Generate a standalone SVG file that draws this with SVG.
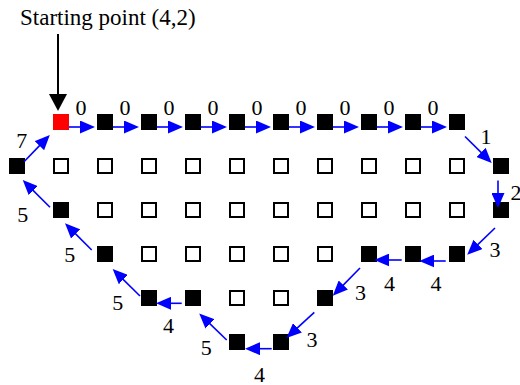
<svg xmlns="http://www.w3.org/2000/svg" width="520" height="385" viewBox="0 0 520 385">
<style>
.b{fill:#000}
.r{fill:#ff0000}
.h{fill:#fff;stroke:#000;stroke-width:2}
.c line{stroke:#0000ff;stroke-width:1.6;marker-end:url(#ah)}
.t{font-family:'Liberation Serif','Times New Roman',Tinos,'DejaVu Serif',serif;font-size:22px;fill:#000}
.lbl{text-anchor:middle}
</style>
<defs>
<marker id="ah" viewBox="0 0 15 13" refX="5" refY="6.5" markerWidth="15" markerHeight="13" markerUnits="userSpaceOnUse" orient="auto"><path d="M0,0 L15,6.5 L0,13 z" fill="#0000ff"/></marker>
<marker id="bh" viewBox="0 0 17 18" refX="5" refY="9" markerWidth="17" markerHeight="18" markerUnits="userSpaceOnUse" orient="auto"><path d="M0,0 L17,9 L0,18 z" fill="#000"/></marker>
</defs>
<rect width="520" height="385" fill="#fff"/>
<g id="start-label">
<text class="t" x="20" y="25" font-family="Liberation Serif, serif" style="font-size:23px">Starting point (4,2)</text>
<line x1="58" y1="34" x2="58" y2="99" stroke="#000" stroke-width="2" marker-end="url(#bh)"/>
</g>
<g id="nodes">
<g id="n0_1"><rect class="r" x="53" y="114" width="16" height="16"/></g>
<g id="n0_2"><rect class="b" x="97" y="114" width="16" height="16"/></g>
<g id="n0_3"><rect class="b" x="141" y="114" width="16" height="16"/></g>
<g id="n0_4"><rect class="b" x="185" y="114" width="16" height="16"/></g>
<g id="n0_5"><rect class="b" x="229" y="114" width="16" height="16"/></g>
<g id="n0_6"><rect class="b" x="273" y="114" width="16" height="16"/></g>
<g id="n0_7"><rect class="b" x="317" y="114" width="16" height="16"/></g>
<g id="n0_8"><rect class="b" x="361" y="114" width="16" height="16"/></g>
<g id="n0_9"><rect class="b" x="405" y="114" width="16" height="16"/></g>
<g id="n0_10"><rect class="b" x="449" y="114" width="16" height="16"/></g>

<g id="n1_0"><rect class="b" x="9" y="158" width="16" height="16"/></g>
<g id="n1_1"><rect class="h" x="54" y="159" width="14" height="14"/></g>
<g id="n1_2"><rect class="h" x="98" y="159" width="14" height="14"/></g>
<g id="n1_3"><rect class="h" x="142" y="159" width="14" height="14"/></g>
<g id="n1_4"><rect class="h" x="186" y="159" width="14" height="14"/></g>
<g id="n1_5"><rect class="h" x="230" y="159" width="14" height="14"/></g>
<g id="n1_6"><rect class="h" x="274" y="159" width="14" height="14"/></g>
<g id="n1_7"><rect class="h" x="318" y="159" width="14" height="14"/></g>
<g id="n1_8"><rect class="h" x="362" y="159" width="14" height="14"/></g>
<g id="n1_9"><rect class="h" x="406" y="159" width="14" height="14"/></g>
<g id="n1_10"><rect class="h" x="450" y="159" width="14" height="14"/></g>
<g id="n1_11"><rect class="b" x="493" y="158" width="16" height="16"/></g>

<g id="n2_1"><rect class="b" x="53" y="202" width="16" height="16"/></g>
<g id="n2_2"><rect class="h" x="98" y="203" width="14" height="14"/></g>
<g id="n2_3"><rect class="h" x="142" y="203" width="14" height="14"/></g>
<g id="n2_4"><rect class="h" x="186" y="203" width="14" height="14"/></g>
<g id="n2_5"><rect class="h" x="230" y="203" width="14" height="14"/></g>
<g id="n2_6"><rect class="h" x="274" y="203" width="14" height="14"/></g>
<g id="n2_7"><rect class="h" x="318" y="203" width="14" height="14"/></g>
<g id="n2_8"><rect class="h" x="362" y="203" width="14" height="14"/></g>
<g id="n2_9"><rect class="h" x="406" y="203" width="14" height="14"/></g>
<g id="n2_10"><rect class="h" x="450" y="203" width="14" height="14"/></g>
<g id="n2_11"><rect class="b" x="493" y="202" width="16" height="16"/></g>

<g id="n3_2"><rect class="b" x="97" y="246" width="16" height="16"/></g>
<g id="n3_3"><rect class="h" x="142" y="247" width="14" height="14"/></g>
<g id="n3_4"><rect class="h" x="186" y="247" width="14" height="14"/></g>
<g id="n3_5"><rect class="h" x="230" y="247" width="14" height="14"/></g>
<g id="n3_6"><rect class="h" x="274" y="247" width="14" height="14"/></g>
<g id="n3_7"><rect class="h" x="318" y="247" width="14" height="14"/></g>
<g id="n3_8"><rect class="b" x="361" y="246" width="16" height="16"/></g>
<g id="n3_9"><rect class="b" x="405" y="246" width="16" height="16"/></g>
<g id="n3_10"><rect class="b" x="449" y="246" width="16" height="16"/></g>

<g id="n4_3"><rect class="b" x="141" y="290" width="16" height="16"/></g>
<g id="n4_4"><rect class="b" x="185" y="290" width="16" height="16"/></g>
<g id="n4_5"><rect class="h" x="230" y="291" width="14" height="14"/></g>
<g id="n4_6"><rect class="h" x="274" y="291" width="14" height="14"/></g>
<g id="n4_7"><rect class="b" x="317" y="290" width="16" height="16"/></g>

<g id="n5_5"><rect class="b" x="229" y="334" width="16" height="16"/></g>
<g id="n5_6"><rect class="b" x="273" y="334" width="16" height="16"/></g>
</g>
<g id="connectors" class="c">
<line x1="69" y1="127" x2="85" y2="127"/>
<line x1="113" y1="127" x2="129" y2="127"/>
<line x1="157" y1="127" x2="173" y2="127"/>
<line x1="201" y1="127" x2="217" y2="127"/>
<line x1="245" y1="127" x2="261" y2="127"/>
<line x1="289" y1="127" x2="305" y2="127"/>
<line x1="333" y1="127" x2="349" y2="127"/>
<line x1="377" y1="127" x2="393" y2="127"/>
<line x1="421" y1="127" x2="437" y2="127"/>
<line x1="465" y1="136.5" x2="484.6" y2="155.9"/>
<line x1="498" y1="180.5" x2="498" y2="198"/>
<line x1="495" y1="228" x2="474.4" y2="247.9"/>
<line x1="445.7" y1="261" x2="429.3" y2="261"/>
<line x1="401.7" y1="260" x2="384.3" y2="260"/>
<line x1="360" y1="268" x2="339.8" y2="288.6"/>
<line x1="314.3" y1="312.3" x2="293.8" y2="331.2"/>
<line x1="271.7" y1="348.7" x2="255" y2="348.7"/>
<line x1="226.7" y1="340" x2="206.4" y2="320.4"/>
<line x1="181.7" y1="303.3" x2="166" y2="303.3"/>
<line x1="140" y1="296" x2="119.8" y2="276.1"/>
<line x1="91.7" y1="250" x2="72.1" y2="230.4"/>
<line x1="50" y1="207.3" x2="29.8" y2="187.1"/>
<line x1="24" y1="161.7" x2="42.9" y2="142.1"/>
<g class="t lbl">
<text x="81" y="115">0</text>
<text x="125" y="115">0</text>
<text x="169" y="115">0</text>
<text x="213" y="115">0</text>
<text x="257" y="115">0</text>
<text x="301" y="115">0</text>
<text x="345" y="115">0</text>
<text x="389" y="115">0</text>
<text x="433" y="115">0</text>
<text x="486" y="143.5">1</text>
<text x="516" y="200">2</text>
<text x="495" y="256.5">3</text>
<text x="436" y="290.5">4</text>
<text x="389.5" y="291">4</text>
<text x="360.5" y="300">3</text>
<text x="312" y="347">3</text>
<text x="259.5" y="381.5">4</text>
<text x="206.3" y="355">5</text>
<text x="168.5" y="332.5">4</text>
<text x="117.7" y="310">5</text>
<text x="69.7" y="261.5">5</text>
<text x="22.8" y="221.5">5</text>
<text x="21.7" y="148.3">7</text>
</g>
</g>
</svg>
